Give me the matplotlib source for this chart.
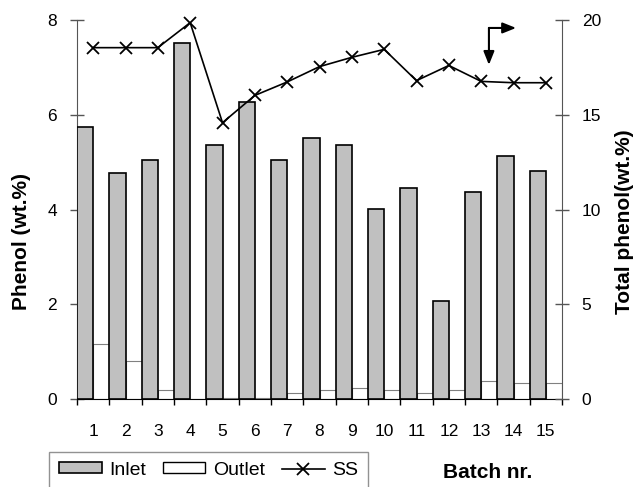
import numpy as np
import matplotlib
matplotlib.use("Agg")
import matplotlib.pyplot as plt
from matplotlib.patches import Patch
from matplotlib.lines import Line2D

plt.rcParams['font.family'] = ['Liberation Sans', 'DejaVu Sans']

batches = [str(i) for i in range(1, 16)]
inlet = [5.75, 4.78, 5.04, 7.51, 5.37, 6.27, 5.04, 5.51, 5.37, 4.01, 4.46, 2.07, 4.36, 5.13, 4.81]
outlet = [1.17, 0.80, 0.20, 0.0, 0.02, 0.02, 0.12, 0.18, 0.24, 0.18, 0.12, 0.18, 0.38, 0.33, 0.33]
ss = [18.54, 18.54, 18.54, 19.86, 14.58, 16.02, 16.73, 17.54, 18.03, 18.45, 16.80, 17.60, 16.76, 16.69, 16.69]

# arrow marker near batch 13 (data coords of the right axis)
arrow_x, arrow_top, arrow_tip_y, arrow_tip_x = 12.74, 19.58, 17.63, 13.58

axis_grey = '#555555'

fig = plt.figure(figsize=(6.34, 4.87), dpi=100)
ax = fig.add_axes([77/634, 1-399/487, 485/634, 379/487])
x = np.arange(len(batches))

ax.bar(x + 0.5, outlet, width=0.5, align='edge', color='white', edgecolor='#808080', linewidth=0.8, zorder=2)
ax.bar(x, inlet, width=0.5, align='edge', color='#c0c0c0', edgecolor='black', linewidth=1.2, zorder=3)
ax.set_xlim(0, len(batches))
ax.set_ylim(0, 8)
ax.set_yticks([0, 2, 4, 6, 8])

ax.set_xticks(np.arange(len(batches) + 1))
ax.set_xticklabels([])
ax.set_xticks(x + 0.5, minor=True)
ax.set_xticklabels(batches, minor=True)
ax.tick_params(axis='x', which='major', direction='out', length=4.5, width=1, color='black')
ax.tick_params(axis='x', which='minor', length=0, pad=18, labelsize=12.5)
ax.tick_params(axis='y', direction='inout', length=9.5, width=1, color=axis_grey, labelsize=12.5, pad=9.5)

ax.spines['top'].set_visible(False)
ax.spines['right'].set_visible(False)
ax.spines['left'].set_color(axis_grey)
ax.spines['bottom'].set_color('black')

ax2 = ax.twinx()
ax2.plot(x + 0.5, ss, color='black', linewidth=1.2, marker='x', markersize=8, markeredgewidth=1.3,
         zorder=5, clip_on=False)
ax2.set_ylim(0, 20)
ax2.set_yticks([0, 5, 10, 15, 20])
ax2.tick_params(axis='y', direction='inout', length=9.5, width=1, color=axis_grey, labelsize=12.5, pad=9.5)
for s in ['top', 'left', 'bottom']:
    ax2.spines[s].set_visible(False)
ax2.spines['right'].set_color(axis_grey)

arrow_props = dict(arrowstyle='-|>,head_length=0.8,head_width=0.32', color='black', linewidth=1.5,
                   shrinkA=0, shrinkB=0)
ax2.annotate('', xy=(arrow_x, arrow_tip_y), xytext=(arrow_x, arrow_top), arrowprops=arrow_props)
ax2.annotate('', xy=(arrow_tip_x, arrow_top), xytext=(arrow_x, arrow_top), arrowprops=arrow_props)

fig.text(22/634, 1-241/487, 'Phenol (wt.%)', rotation=90, ha='center', va='center',
         fontsize=15, fontweight='bold')
fig.text(625/634, 1-222/487, 'Total phenol(wt.%)', rotation=90, ha='center', va='center',
         fontsize=15, fontweight='bold')
fig.text(488/634, 1-472/487, 'Batch nr.', ha='center', va='center', fontsize=15, fontweight='bold')

handles = [Patch(facecolor='#c0c0c0', edgecolor='black', linewidth=1.2, label='Inlet'),
           Patch(facecolor='white', edgecolor='black', linewidth=1.0, label='Outlet'),
           Line2D([], [], color='black', linewidth=1.2, marker='x', markersize=8,
                  markeredgewidth=1.3, label='SS')]
leg = fig.legend(handles=handles, loc='upper left', bbox_to_anchor=(49/634, 1-452/487),
                 bbox_transform=fig.transFigure, ncol=3, fontsize=14, frameon=True,
                 fancybox=False, edgecolor='#777777', borderpad=0.5, handlelength=2.2,
                 handleheight=0.5, handletextpad=0.4, columnspacing=0.85, borderaxespad=0)
leg.get_frame().set_linewidth(1.0)

fig.savefig('out.png', dpi=100)
